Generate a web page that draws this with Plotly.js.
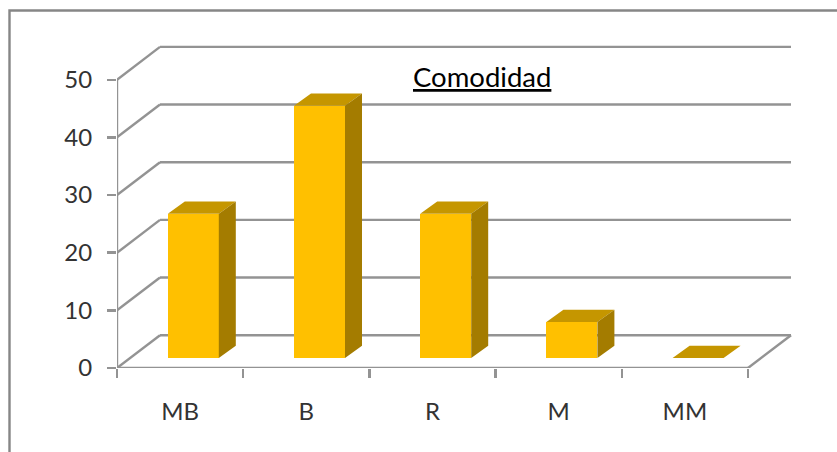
<!DOCTYPE html>
<html>
<head>
<meta charset="utf-8">
<script src="https://cdn.plot.ly/plotly-3.0.1.min.js"></script>
<style>html,body{margin:0;padding:0;background:#fff;overflow:hidden}#c{width:837px;height:452px}</style>
</head>
<body>
<div id="c"></div>
<script>
const categories = ["MB", "B", "R", "M", "MM"];
const values = [25, 43.75, 25, 6.25, 0];
const yTicks = [0, 10, 20, 30, 40, 50];
const titleText = "Comodidad";

const W = 837, H = 452;
const m = {l: 117, r: 42, t: 44, b: 84};
const pxX = 126.2, pxY = 5.766;
const xMax = (W - m.l - m.r) / pxX, yMax = (H - m.t - m.b) / pxY;
const wallDx = 43 / pxX, wallDy = 32.8 / pxY;
const barW = 51 / pxX, barDx = 17 / pxX, barDy = 12.3 / pxY;
const barOffX = 13.2 / pxX, barBase = 10 / pxY;
const gridColor = "#939393", frameColor = "#868686";
const n = categories.length;
const idx = categories.map((_, i) => i + 0.5);

function line(x0, y0, x1, y1) {
  return {type: "line", xref: "x", yref: "y", x0, y0, x1, y1, layer: "below",
          line: {color: gridColor, width: 2.4}};
}
const shapes = [];
yTicks.forEach(v => {
  shapes.push(line(0, v, wallDx, v + wallDy));
  shapes.push(line(wallDx, v + wallDy, n + wallDx, v + wallDy));
});
shapes.push(line(n, 0, n + wallDx, wallDy));
shapes.push(line(0, 0, n, 0));
shapes.push(line(0, 0, 0, yTicks[yTicks.length - 1]));
// outer chart frame, running off the right and bottom of the picture
shapes.push({type: "rect", xref: "paper", yref: "paper", layer: "below",
  x0: (9.5 - m.l) / (W - m.l - m.r), x1: 1.2,
  y0: -0.5, y1: 1 + (m.t - 10.5) / (H - m.t - m.b),
  line: {color: frameColor, width: 2.4}, fillcolor: "rgba(0,0,0,0)"});

const front = {
  type: "bar", x: idx.map(c => c + barOffX), y: values,
  base: values.map(() => barBase), width: barW,
  marker: {color: "#FFC000", line: {width: 0}}, hoverinfo: "skip", showlegend: false
};
const topX = [], topY = [], sideX = [], sideY = [];
values.forEach((v, i) => {
  const l = idx[i] + barOffX - barW / 2, r = l + barW, b = barBase, t = barBase + v;
  topX.push(l, r, r + barDx, l + barDx, l, null);
  topY.push(t, t, t + barDy, t + barDy, t, null);
  if (v > 0) {
    sideX.push(r, r + barDx, r + barDx, r, r, null);
    sideY.push(b, b + barDy, t + barDy, t, b, null);
  }
});
const face = (x, y, color) => ({type: "scatter", mode: "lines", x, y, fill: "toself",
  fillcolor: color, line: {width: 0, color: color}, hoverinfo: "skip", showlegend: false});

const tickFont = {family: "Lato, Carlito, sans-serif", size: 24, color: "#333333"};
const layout = {
  width: W, height: H, margin: m, paper_bgcolor: "#fff", plot_bgcolor: "rgba(0,0,0,0)",
  showlegend: false, bargap: 0, shapes,
  xaxis: {range: [0, xMax], tickmode: "array", tickvals: idx, ticktext: categories,
    ticks: "", showgrid: false, zeroline: false, showline: false, tickfont: tickFont,
    ticklabelstandoff: 27,
    minor: {tickmode: "linear", tick0: 0, dtick: 1, ticks: "outside", ticklen: 9,
            tickwidth: 2.4, tickcolor: gridColor, showgrid: false}},
  yaxis: {range: [0, yMax], tickmode: "array", tickvals: yTicks, ticktext: yTicks.map(String),
    ticks: "outside", ticklen: 9, tickwidth: 2.4, tickcolor: gridColor,
    showgrid: false, zeroline: false, showline: false, tickfont: tickFont, ticklabelstandoff: 10},
  annotations: [{text: titleText, xref: "paper", yref: "paper", showarrow: false,
    x: (482 - m.l) / (W - m.l - m.r), y: 1 - (76 - m.t) / (H - m.t - m.b),
    xanchor: "center", yanchor: "middle",
    font: {family: "Lato, Carlito, sans-serif", size: 27.5, color: "#000", lineposition: "under"}}]
};
Plotly.newPlot("c", [front, face(topX, topY, "#C59600"), face(sideX, sideY, "#A47C00")], layout,
  {displayModeBar: false, staticPlot: true});
</script>
</body>
</html>
